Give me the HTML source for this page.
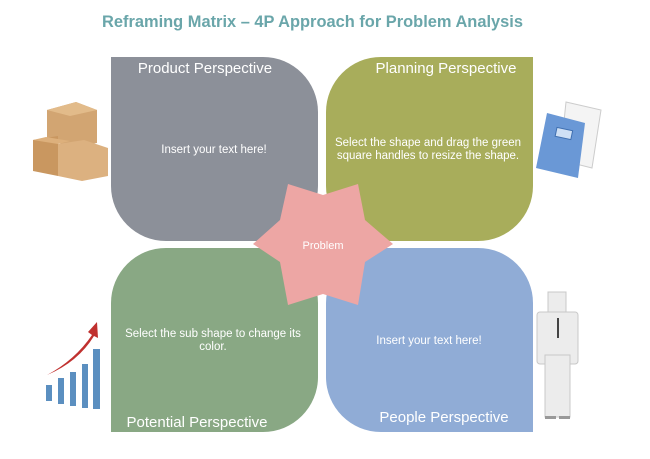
<!DOCTYPE html>
<html><head><style>body{margin:0;background:#fff}svg{display:block}</style></head><body>
<svg width="650" height="459" viewBox="0 0 650 459" xmlns="http://www.w3.org/2000/svg" font-family="Liberation Sans, sans-serif">
<text x="102" y="27" textLength="421" lengthAdjust="spacingAndGlyphs" font-size="17" font-weight="bold" fill="#6aa6aa">Reframing Matrix – 4P Approach for Problem Analysis</text>
<path d="M111,57 H263 A55,55 0 0 1 318,112 V186 A55,55 0 0 1 263,241 H166 A55,55 0 0 1 111,186 Z" fill="#8c9099"/>
<path d="M533,57 H381 A55,55 0 0 0 326,112 V186 A55,55 0 0 0 381,241 H478 A55,55 0 0 0 533,186 Z" fill="#a8ad5b"/>
<path d="M111,432 H263 A55,55 0 0 0 318,377 V303 A55,55 0 0 0 263,248 H166 A55,55 0 0 0 111,303 Z" fill="#89a884"/>
<path d="M533,432 H381 A55,55 0 0 1 326,377 V303 A55,55 0 0 1 381,248 H478 A55,55 0 0 1 533,303 Z" fill="#90acd6"/>
<polygon points="393,244 365,262 358,305 323,294 288,305 280,262 253,244 280,220 288,184 323,195 358,184 365,220" fill="#eda6a4"/>
<g fill="#fff" text-anchor="middle">
<text x="205" y="73" font-size="15">Product Perspective</text>
<text x="446" y="73" font-size="15">Planning Perspective</text>
<text x="214" y="153" font-size="11.5">Insert your text here!</text>
<text x="428" y="146" font-size="11.5">Select the shape and drag the green</text>
<text x="428" y="159" font-size="11.5">square handles to resize the shape.</text>
<text x="323" y="249" font-size="11">Problem</text>
<text x="213" y="337" font-size="11.5">Select the sub shape to change its</text>
<text x="213" y="350" font-size="11.5">color.</text>
<text x="429" y="344" font-size="11.5">Insert your text here!</text>
<text x="197" y="427" font-size="15">Potential Perspective</text>
<text x="444" y="422" font-size="15">People Perspective</text>
</g>
<!-- boxes -->
<g>
<polygon points="47,110 76,102 97,110 97,143 72,147 47,140" fill="#d2a572"/>
<polygon points="47,110 76,102 97,110 70,116" fill="#e2bb8a"/>
<polygon points="33,140 58,136 58,176 33,171" fill="#c99760"/>
<polygon points="33,140 46,137 70,141 58,144" fill="#ddb07c"/>
<polygon points="58,144 84,140 108,148 108,176 82,181 58,176" fill="#dcb180"/>
</g>
<!-- folder -->
<g>
<polygon points="566,102 601,110 592,168 560,160" fill="#f4f4f4" stroke="#ccc"/>
<polygon points="547,113 585,123 578,178 536,168" fill="#6a98d6"/>
<rect x="556" y="129" width="16" height="9" fill="#cfe0f5" stroke="#3f6fb0" transform="rotate(12 564 133)"/>
</g>
<!-- chart -->
<g fill="#5b8fc0">
<rect x="46" y="385" width="6" height="16"/>
<rect x="58" y="378" width="6" height="26"/>
<rect x="70" y="372" width="6" height="34"/>
<rect x="82" y="364" width="6" height="44"/>
<rect x="93" y="349" width="7" height="60"/>
</g>
<path d="M47,375 Q75,360 92,335 L88,332 L97,322 L98,338 L94,336 Q78,362 47,375 Z" fill="#c0312f"/>
<!-- man -->
<g fill="#ececec" stroke="#c8c8c8">
<rect x="548" y="292" width="18" height="20"/>
<rect x="537" y="312" width="41" height="52" rx="3"/>
<rect x="545" y="355" width="25" height="62"/>
</g>
<polygon points="557,318 559,318 559,338 557,338" fill="#444"/>
<rect x="545" y="416" width="11" height="3" fill="#999"/>
<rect x="559" y="416" width="11" height="3" fill="#999"/>
</svg>
</body></html>
